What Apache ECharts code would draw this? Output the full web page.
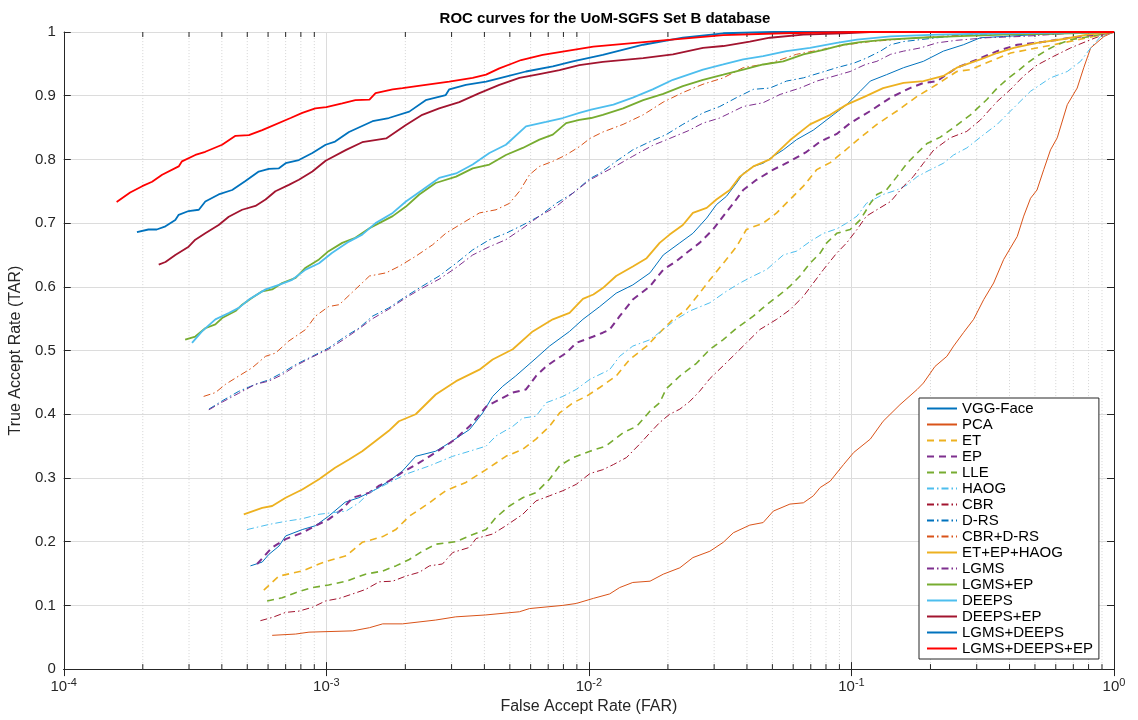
<!DOCTYPE html>
<html>
<head>
<meta charset="utf-8">
<script src="https://cdn.jsdelivr.net/npm/echarts@6/dist/echarts.min.js"></script>
<style>
html,body{margin:0;padding:0;background:#fff;}
#chart{width:1138px;height:720px;}
</style>
</head>
<body>
<div id="chart"></div>
<script>
// ---------- data: [FAR, TAR] pairs ----------
const SERIES_NAMES = ['VGG-Face','PCA','ET','EP','LLE','HAOG','CBR','D-RS','CBR+D-RS','ET+EP+HAOG','LGMS','LGMS+EP','DEEPS','DEEPS+EP','LGMS+DEEPS','LGMS+DEEPS+EP'];
const X_TICKS = [1e-4, 1e-3, 1e-2, 1e-1, 1];
const Y_TICKS = [0,0.1,0.2,0.3,0.4,0.5,0.6,0.7,0.8,0.9,1];

const VGG_FACE = [[5.14e-4,0.162],[5.70e-4,0.168],[6.04e-4,0.180],[6.60e-4,0.193],[7.0e-4,0.209],[8.10e-4,0.219],[9.08e-4,0.225],[1.02e-3,0.240],[1.18e-3,0.262],[1.33e-3,0.269],[1.54e-3,0.282],[1.73e-3,0.295],[1.95e-3,0.311],[2.19e-3,0.334],[2.61e-3,0.342],[2.94e-3,0.355],[3.51e-3,0.376],[3.94e-3,0.402],[4.30e-3,0.428],[4.70e-3,0.444],[5.26e-3,0.460],[6.29e-3,0.488],[7.08e-3,0.507],[8.44e-3,0.530],[9.49e-3,0.549],[1.10e-2,0.569],[1.27e-2,0.590],[1.47e-2,0.603],[1.71e-2,0.622],[1.92e-2,0.650],[2.22e-2,0.669],[2.49e-2,0.684],[2.81e-2,0.708],[3.06e-2,0.729],[3.34e-2,0.742],[3.65e-2,0.763],[3.87e-2,0.778],[4.23e-2,0.789],[4.61e-2,0.794],[5.04e-2,0.805],[5.50e-2,0.815],[6.18e-2,0.831],[7.16e-2,0.846],[8.53e-2,0.870],[9.59e-2,0.886],[0.108,0.907],[0.118,0.923],[0.136,0.933],[0.158,0.944],[0.188,0.954],[0.224,0.970],[0.267,0.980],[0.310,0.991],[0.380,0.993],[0.508,0.996],[0.683,0.998],[0.916,1.0],[1,1]];
const PCA = [[6.22e-4,0.053],[7.64e-4,0.055],[8.59e-4,0.058],[1.26e-3,0.060],[1.46e-3,0.065],[1.64e-3,0.071],[1.95e-3,0.071],[2.61e-3,0.077],[3.11e-3,0.082],[4.05e-3,0.085],[5.44e-3,0.090],[5.94e-3,0.095],[7.96e-3,0.100],[8.95e-3,0.103],[1.04e-2,0.111],[1.20e-2,0.118],[1.31e-2,0.128],[1.47e-2,0.136],[1.71e-2,0.138],[1.92e-2,0.149],[2.22e-2,0.159],[2.49e-2,0.175],[2.89e-2,0.185],[3.25e-2,0.199],[3.55e-2,0.214],[4.10e-2,0.226],[4.61e-2,0.230],[5.04e-2,0.248],[5.83e-2,0.259],[6.56e-2,0.261],[7.16e-2,0.272],[7.60e-2,0.285],[8.30e-2,0.295],[9.33e-2,0.321],[0.102,0.340],[0.118,0.361],[0.132,0.389],[0.153,0.415],[0.178,0.439],[0.188,0.449],[0.208,0.475],[0.231,0.491],[0.245,0.507],[0.267,0.528],[0.292,0.549],[0.319,0.580],[0.348,0.606],[0.380,0.643],[0.428,0.679],[0.453,0.711],[0.481,0.739],[0.509,0.752],[0.540,0.784],[0.573,0.815],[0.608,0.834],[0.664,0.886],[0.724,0.912],[0.767,0.944],[0.815,0.975],[0.916,0.993],[1,1]];
const ET = [[5.78e-4,0.124],[6.60e-4,0.146],[8.10e-4,0.154],[9.38e-4,0.165],[1.02e-3,0.170],[1.19e-3,0.178],[1.37e-3,0.199],[1.64e-3,0.208],[1.84e-3,0.219],[2.07e-3,0.240],[2.47e-3,0.261],[2.85e-3,0.280],[3.40e-3,0.293],[4.06e-3,0.313],[4.83e-3,0.334],[5.60e-3,0.345],[6.29e-3,0.361],[7.08e-3,0.381],[7.73e-3,0.402],[8.69e-3,0.418],[9.77e-3,0.428],[1.10e-2,0.442],[1.27e-2,0.460],[1.43e-2,0.486],[1.66e-2,0.507],[1.86e-2,0.528],[2.09e-2,0.549],[2.35e-2,0.564],[2.64e-2,0.590],[2.89e-2,0.611],[3.25e-2,0.637],[3.65e-2,0.663],[3.98e-2,0.690],[4.61e-2,0.700],[5.19e-2,0.716],[5.83e-2,0.737],[6.56e-2,0.758],[7.38e-2,0.784],[8.30e-2,0.795],[9.33e-2,0.812],[0.105,0.830],[0.125,0.855],[0.149,0.876],[0.178,0.899],[0.212,0.918],[0.252,0.938],[0.284,0.941],[0.338,0.954],[0.404,0.967],[0.467,0.972],[0.590,0.980],[0.791,0.991],[1,1]];
const EP = [[5.45e-4,0.165],[6.22e-4,0.191],[7.0e-4,0.204],[8.10e-4,0.214],[9.09e-4,0.225],[1.02e-3,0.235],[1.15e-3,0.251],[1.26e-3,0.269],[1.46e-3,0.277],[1.59e-3,0.288],[1.73e-3,0.295],[1.95e-3,0.309],[2.26e-3,0.324],[2.61e-3,0.340],[3.03e-3,0.358],[3.51e-3,0.381],[4.06e-3,0.412],[4.56e-3,0.423],[5.13e-3,0.434],[5.76e-3,0.439],[6.29e-3,0.460],[6.87e-3,0.475],[7.50e-3,0.486],[8.19e-3,0.496],[8.95e-3,0.512],[1.04e-2,0.522],[1.13e-2,0.528],[1.20e-2,0.533],[1.31e-2,0.554],[1.47e-2,0.580],[1.71e-2,0.601],[1.92e-2,0.627],[2.15e-2,0.640],[2.35e-2,0.653],[2.64e-2,0.669],[2.97e-2,0.690],[3.25e-2,0.711],[3.55e-2,0.731],[3.87e-2,0.752],[4.35e-2,0.768],[5.04e-2,0.784],[5.83e-2,0.797],[6.75e-2,0.812],[7.60e-2,0.828],[8.79e-2,0.840],[9.89e-2,0.857],[0.118,0.876],[0.141,0.897],[0.167,0.912],[0.188,0.920],[0.212,0.923],[0.252,0.944],[0.310,0.959],[0.359,0.970],[0.428,0.980],[0.509,0.983],[0.683,0.991],[0.863,0.996],[1,1]];
const LLE = [[5.95e-4,0.107],[6.79e-4,0.112],[7.64e-4,0.120],[8.85e-4,0.128],[1.02e-3,0.132],[1.19e-3,0.138],[1.41e-3,0.149],[1.64e-3,0.154],[1.84e-3,0.162],[2.07e-3,0.172],[2.32e-3,0.185],[2.61e-3,0.196],[3.12e-3,0.200],[3.51e-3,0.209],[4.06e-3,0.219],[4.43e-3,0.238],[4.98e-3,0.256],[5.60e-3,0.269],[6.29e-3,0.277],[7.08e-3,0.298],[7.73e-3,0.319],[8.69e-3,0.332],[1.01e-2,0.342],[1.16e-2,0.350],[1.35e-2,0.371],[1.52e-2,0.381],[1.71e-2,0.405],[1.86e-2,0.418],[1.97e-2,0.440],[2.22e-2,0.460],[2.57e-2,0.480],[2.89e-2,0.502],[3.25e-2,0.517],[3.65e-2,0.535],[4.23e-2,0.554],[4.75e-2,0.572],[5.35e-2,0.588],[5.83e-2,0.601],[6.37e-2,0.617],[6.95e-2,0.637],[7.60e-2,0.653],[8.05e-2,0.669],[8.79e-2,0.684],[9.89e-2,0.690],[0.108,0.705],[0.118,0.731],[0.125,0.745],[0.136,0.752],[0.149,0.773],[0.163,0.794],[0.178,0.810],[0.194,0.825],[0.218,0.835],[0.245,0.850],[0.284,0.870],[0.328,0.894],[0.359,0.912],[0.397,0.928],[0.428,0.938],[0.467,0.951],[0.509,0.962],[0.556,0.972],[0.608,0.980],[0.683,0.988],[0.815,0.993],[1,1]];
const HAOG = [[4.99e-4,0.219],[6.04e-4,0.227],[7.0e-4,0.232],[8.10e-4,0.236],[9.38e-4,0.243],[1.08e-3,0.246],[1.19e-3,0.248],[1.33e-3,0.261],[1.46e-3,0.277],[1.69e-3,0.290],[2.01e-3,0.306],[2.47e-3,0.319],[3.03e-3,0.334],[3.51e-3,0.342],[4.06e-3,0.350],[4.43e-3,0.366],[5.13e-3,0.381],[5.60e-3,0.394],[6.29e-3,0.397],[6.87e-3,0.418],[7.96e-3,0.428],[8.95e-3,0.439],[1.01e-2,0.455],[1.07e-2,0.460],[1.20e-2,0.470],[1.31e-2,0.491],[1.47e-2,0.507],[1.71e-2,0.517],[1.92e-2,0.533],[2.15e-2,0.549],[2.42e-2,0.562],[2.89e-2,0.575],[3.34e-2,0.593],[3.76e-2,0.606],[4.23e-2,0.617],[4.75e-2,0.627],[5.50e-2,0.650],[6.18e-2,0.656],[6.95e-2,0.671],[7.82e-2,0.684],[8.79e-2,0.691],[9.59e-2,0.700],[0.105,0.711],[0.114,0.731],[0.132,0.745],[0.149,0.752],[0.163,0.760],[0.178,0.773],[0.200,0.784],[0.224,0.794],[0.245,0.807],[0.275,0.818],[0.319,0.839],[0.359,0.855],[0.415,0.881],[0.481,0.907],[0.573,0.928],[0.664,0.938],[0.746,0.954],[0.815,0.975],[0.890,0.993],[1,1]];
const CBR = [[5.61e-4,0.076],[6.22e-4,0.081],[7.0e-4,0.089],[7.86e-4,0.091],[8.85e-4,0.097],[9.94e-4,0.107],[1.12e-3,0.111],[1.26e-3,0.118],[1.41e-3,0.125],[1.59e-3,0.137],[1.79e-3,0.138],[2.01e-3,0.146],[2.26e-3,0.152],[2.47e-3,0.162],[2.77e-3,0.165],[3.03e-3,0.183],[3.51e-3,0.191],[3.72e-3,0.205],[4.30e-3,0.212],[4.83e-3,0.225],[5.60e-3,0.243],[6.29e-3,0.264],[7.08e-3,0.272],[7.96e-3,0.280],[8.95e-3,0.290],[1.01e-2,0.307],[1.13e-2,0.313],[1.24e-2,0.321],[1.39e-2,0.332],[1.56e-2,0.353],[1.71e-2,0.371],[1.86e-2,0.387],[2.03e-2,0.400],[2.22e-2,0.408],[2.42e-2,0.420],[2.64e-2,0.436],[2.89e-2,0.456],[3.34e-2,0.481],[3.87e-2,0.507],[4.48e-2,0.533],[5.19e-2,0.549],[5.83e-2,0.564],[6.56e-2,0.585],[7.16e-2,0.606],[7.82e-2,0.627],[8.79e-2,0.653],[9.59e-2,0.669],[0.105,0.690],[0.114,0.711],[0.125,0.721],[0.141,0.734],[0.158,0.758],[0.172,0.773],[0.188,0.794],[0.206,0.815],[0.238,0.834],[0.275,0.844],[0.310,0.862],[0.359,0.891],[0.404,0.910],[0.453,0.931],[0.509,0.948],[0.590,0.962],[0.683,0.975],[0.815,0.988],[0.916,0.996],[1,1]];
const D_RS = [[3.57e-4,0.408],[4.01e-4,0.421],[4.64e-4,0.436],[5.37e-4,0.447],[6.04e-4,0.454],[6.79e-4,0.465],[7.64e-4,0.478],[8.85e-4,0.491],[1.02e-3,0.504],[1.19e-3,0.523],[1.33e-3,0.535],[1.50e-3,0.554],[1.73e-3,0.567],[2.01e-3,0.585],[2.32e-3,0.601],[2.69e-3,0.617],[3.12e-3,0.637],[3.61e-3,0.658],[4.18e-3,0.674],[4.83e-3,0.684],[5.60e-3,0.697],[6.48e-3,0.711],[7.50e-3,0.731],[8.69e-3,0.747],[1.01e-2,0.770],[1.10e-2,0.778],[1.27e-2,0.797],[1.47e-2,0.815],[1.71e-2,0.828],[1.97e-2,0.839],[2.28e-2,0.855],[2.72e-2,0.873],[3.15e-2,0.883],[3.65e-2,0.897],[4.23e-2,0.910],[4.89e-2,0.912],[5.66e-2,0.923],[6.56e-2,0.928],[7.60e-2,0.936],[8.79e-2,0.944],[0.102,0.951],[0.114,0.959],[0.129,0.970],[0.141,0.980],[0.158,0.985],[0.212,0.991],[0.284,0.996],[0.508,0.998],[1,1]];
const CBR_D_RS = [[3.41e-4,0.428],[3.78e-4,0.434],[4.13e-4,0.447],[4.64e-4,0.460],[5.22e-4,0.473],[5.87e-4,0.491],[6.40e-4,0.496],[7.20e-4,0.515],[8.34e-4,0.533],[9.09e-4,0.554],[1.02e-3,0.569],[1.12e-3,0.572],[1.29e-3,0.596],[1.46e-3,0.617],[1.69e-3,0.622],[1.89e-3,0.632],[2.19e-3,0.648],[2.54e-3,0.666],[2.85e-3,0.684],[3.30e-3,0.700],[3.83e-3,0.716],[4.43e-3,0.721],[4.98e-3,0.731],[5.44e-3,0.750],[5.94e-3,0.776],[6.48e-3,0.789],[7.29e-3,0.797],[8.19e-3,0.807],[9.20e-3,0.820],[1.01e-2,0.833],[1.13e-2,0.843],[1.35e-2,0.855],[1.61e-2,0.870],[1.92e-2,0.890],[2.28e-2,0.905],[2.72e-2,0.918],[3.25e-2,0.928],[3.87e-2,0.944],[4.89e-2,0.951],[6.18e-2,0.965],[7.60e-2,0.972],[9.59e-2,0.980],[0.118,0.985],[0.158,0.989],[0.212,0.993],[0.328,0.997],[0.509,0.998],[1,1]];
const ET_EP_HAOG = [[4.85e-4,0.243],[5.70e-4,0.253],[6.22e-4,0.256],[7.0e-4,0.269],[8.10e-4,0.282],[9.38e-4,0.298],[1.08e-3,0.316],[1.22e-3,0.329],[1.37e-3,0.342],[1.54e-3,0.358],[1.73e-3,0.374],[1.89e-3,0.389],[2.19e-3,0.400],[2.61e-3,0.431],[3.12e-3,0.452],[3.83e-3,0.470],[4.30e-3,0.486],[5.13e-3,0.502],[6.11e-3,0.530],[7.29e-3,0.549],[8.44e-3,0.559],[9.49e-3,0.581],[1.04e-2,0.588],[1.13e-2,0.598],[1.27e-2,0.617],[1.47e-2,0.632],[1.66e-2,0.645],[1.86e-2,0.669],[2.03e-2,0.682],[2.28e-2,0.697],[2.49e-2,0.716],[2.81e-2,0.724],[3.06e-2,0.737],[3.44e-2,0.752],[3.76e-2,0.773],[4.23e-2,0.789],[4.89e-2,0.800],[5.83e-2,0.830],[6.95e-2,0.855],[8.30e-2,0.870],[9.59e-2,0.886],[0.113,0.899],[0.132,0.912],[0.158,0.920],[0.188,0.923],[0.224,0.931],[0.252,0.944],[0.310,0.957],[0.359,0.967],[0.415,0.975],[0.509,0.983],[0.644,0.989],[0.791,0.996],[1,1]];
const LGMS = [[3.57e-4,0.407],[4.01e-4,0.419],[4.64e-4,0.433],[5.37e-4,0.447],[6.04e-4,0.452],[6.79e-4,0.462],[7.64e-4,0.476],[8.85e-4,0.490],[1.02e-3,0.502],[1.19e-3,0.520],[1.33e-3,0.534],[1.50e-3,0.550],[1.73e-3,0.565],[2.01e-3,0.583],[2.32e-3,0.598],[2.69e-3,0.612],[3.12e-3,0.630],[3.61e-3,0.650],[4.18e-3,0.663],[4.83e-3,0.674],[5.60e-3,0.692],[6.48e-3,0.711],[7.50e-3,0.726],[8.69e-3,0.747],[1.01e-2,0.768],[1.27e-2,0.790],[1.47e-2,0.805],[1.75e-2,0.822],[2.09e-2,0.835],[2.39e-2,0.845],[2.72e-2,0.857],[3.15e-2,0.865],[3.87e-2,0.883],[4.61e-2,0.889],[5.35e-2,0.902],[6.37e-2,0.912],[7.38e-2,0.923],[8.30e-2,0.929],[9.89e-2,0.938],[0.113,0.949],[0.125,0.954],[0.141,0.965],[0.158,0.970],[0.183,0.975],[0.212,0.983],[0.252,0.987],[0.328,0.991],[0.444,0.993],[0.683,0.998],[1,1]];
const LGMS_EP = [[2.90e-4,0.517],[3.17e-4,0.522],[3.46e-4,0.535],[3.78e-4,0.541],[4.01e-4,0.551],[4.51e-4,0.562],[4.78e-4,0.572],[5.22e-4,0.583],[5.70e-4,0.593],[6.22e-4,0.596],[6.79e-4,0.606],[7.64e-4,0.614],[8.34e-4,0.630],[9.38e-4,0.643],[1.02e-3,0.656],[1.15e-3,0.669],[1.29e-3,0.677],[1.46e-3,0.692],[1.59e-3,0.700],[1.79e-3,0.711],[2.01e-3,0.726],[2.26e-3,0.745],[2.61e-3,0.763],[3.12e-3,0.773],[3.61e-3,0.786],[4.18e-3,0.792],[4.83e-3,0.807],[5.60e-3,0.818],[6.48e-3,0.831],[7.29e-3,0.839],[8.19e-3,0.857],[9.20e-3,0.862],[1.02e-2,0.865],[1.13e-2,0.870],[1.35e-2,0.880],[1.61e-2,0.893],[1.92e-2,0.903],[2.28e-2,0.915],[2.72e-2,0.925],[3.25e-2,0.933],[3.87e-2,0.941],[4.61e-2,0.949],[5.50e-2,0.954],[6.56e-2,0.965],[7.82e-2,0.972],[9.33e-2,0.980],[0.108,0.984],[0.136,0.988],[0.183,0.991],[0.245,0.993],[0.380,0.996],[0.683,0.998],[1,1]];
const DEEPS = [[3.08e-4,0.512],[3.36e-4,0.530],[3.78e-4,0.549],[4.25e-4,0.559],[4.64e-4,0.567],[5.07e-4,0.580],[5.87e-4,0.596],[6.60e-4,0.603],[7.41e-4,0.611],[8.34e-4,0.627],[9.38e-4,0.637],[1.05e-3,0.653],[1.22e-3,0.671],[1.37e-3,0.682],[1.54e-3,0.700],[1.79e-3,0.716],[2.01e-3,0.734],[2.32e-3,0.752],[2.69e-3,0.771],[3.12e-3,0.778],[3.61e-3,0.792],[4.18e-3,0.810],[4.83e-3,0.823],[5.76e-3,0.852],[6.87e-3,0.859],[7.96e-3,0.865],[9.20e-3,0.873],[1.02e-2,0.878],[1.24e-2,0.886],[1.47e-2,0.897],[1.75e-2,0.910],[2.09e-2,0.925],[2.72e-2,0.941],[3.25e-2,0.949],[3.87e-2,0.957],[4.61e-2,0.962],[5.66e-2,0.970],[6.95e-2,0.975],[8.79e-2,0.983],[0.105,0.988],[0.141,0.993],[0.212,0.996],[0.380,0.998],[1,1]];
const DEEPS_EP = [[2.30e-4,0.635],[2.44e-4,0.639],[2.66e-4,0.650],[2.99e-4,0.663],[3.17e-4,0.674],[3.46e-4,0.684],[3.89e-4,0.697],[4.25e-4,0.710],[4.78e-4,0.721],[5.37e-4,0.727],[5.87e-4,0.737],[6.40e-4,0.750],[7.20e-4,0.760],[7.86e-4,0.768],[8.85e-4,0.781],[9.94e-4,0.798],[1.19e-3,0.815],[1.37e-3,0.827],[1.69e-3,0.833],[2.01e-3,0.854],[2.32e-3,0.870],[2.69e-3,0.880],[3.21e-3,0.890],[3.83e-3,0.904],[4.56e-3,0.917],[5.44e-3,0.928],[6.48e-3,0.934],[7.73e-3,0.940],[9.20e-3,0.948],[1.13e-2,0.953],[1.61e-2,0.959],[2.09e-2,0.965],[2.72e-2,0.975],[3.25e-2,0.978],[4.10e-2,0.985],[4.89e-2,0.991],[6.56e-2,0.996],[9.33e-2,0.998],[0.118,1.0],[1,1]];
const LGMS_DEEPS = [[1.90e-4,0.686],[2.10e-4,0.690],[2.26e-4,0.690],[2.44e-4,0.695],[2.66e-4,0.705],[2.74e-4,0.713],[2.99e-4,0.719],[3.27e-4,0.721],[3.46e-4,0.734],[3.89e-4,0.745],[4.38e-4,0.752],[4.92e-4,0.766],[5.53e-4,0.781],[6.04e-4,0.785],[6.60e-4,0.786],[7.0e-4,0.794],[7.86e-4,0.799],[8.85e-4,0.810],[9.94e-4,0.823],[1.08e-3,0.828],[1.22e-3,0.843],[1.50e-3,0.860],[1.73e-3,0.865],[2.07e-3,0.875],[2.39e-3,0.893],[2.85e-3,0.901],[2.94e-3,0.910],[3.40e-3,0.917],[4.06e-3,0.922],[4.83e-3,0.930],[5.76e-3,0.938],[7.29e-3,0.946],[8.69e-3,0.954],[1.13e-2,0.964],[1.61e-2,0.980],[2.28e-2,0.991],[3.25e-2,0.998],[5.04e-2,1.0],[1,1]];
const LGMS_DEEPS_EP = [[1.59e-4,0.733],[1.79e-4,0.748],[1.99e-4,0.758],[2.17e-4,0.765],[2.37e-4,0.776],[2.74e-4,0.789],[2.82e-4,0.797],[3.17e-4,0.807],[3.46e-4,0.812],[4.01e-4,0.823],[4.51e-4,0.837],[5.07e-4,0.838],[5.70e-4,0.846],[7.31e-4,0.865],[8.10e-4,0.873],[9.08e-4,0.880],[1.00e-3,0.882],[1.15e-3,0.888],[1.29e-3,0.893],[1.46e-3,0.894],[1.54e-3,0.904],[1.79e-3,0.910],[1.95e-3,0.912],[2.39e-3,0.917],[2.94e-3,0.922],[3.61e-3,0.928],[4.06e-3,0.933],[4.56e-3,0.943],[5.13e-3,0.951],[5.52e-3,0.956],[6.67e-3,0.964],[1.04e-2,0.977],[1.92e-2,0.987],[3.25e-2,0.995],[5.50e-2,0.998],[0.102,1.0],[1,1]];

const SERIES_DATA = [VGG_FACE, PCA, ET, EP, LLE, HAOG, CBR, D_RS, CBR_D_RS, ET_EP_HAOG, LGMS, LGMS_EP, DEEPS, DEEPS_EP, LGMS_DEEPS, LGMS_DEEPS_EP];

// ---------- styles ----------
const DASH = [7, 5];
const DASHDOT = [7, 3, 1.5, 3];
const STYLES = [
  {color:'#0072BD', width:1,   type:'solid'},
  {color:'#D95319', width:1,   type:'solid'},
  {color:'#EDB120', width:1.6, type:DASH},
  {color:'#7E2F8E', width:2,   type:DASH},
  {color:'#77AC30', width:1.6, type:DASH},
  {color:'#4DBEEE', width:1,   type:DASHDOT},
  {color:'#A2142F', width:1,   type:DASHDOT},
  {color:'#0072BD', width:1,   type:DASHDOT},
  {color:'#D95319', width:1,   type:DASHDOT},
  {color:'#EDB120', width:1.8, type:'solid'},
  {color:'#7E2F8E', width:1,   type:DASHDOT},
  {color:'#77AC30', width:1.8, type:'solid'},
  {color:'#4DBEEE', width:1.8, type:'solid'},
  {color:'#A2142F', width:1.8, type:'solid'},
  {color:'#0072BD', width:1.8, type:'solid'},
  {color:'#FF0000', width:1.8, type:'solid'}
];

// minor log ticks (2..9 x 10^k)
const MINOR_TICKS = [];
for (let k = -4; k < 0; k++) for (let m = 2; m <= 9; m++) MINOR_TICKS.push([m * Math.pow(10, k), 0]);

const FONT = '"Liberation Sans", Arial, Helvetica, sans-serif';
const AX = '#262626';

const chart = echarts.init(document.getElementById('chart'), null, {renderer:'canvas'});

const lineSeries = SERIES_NAMES.map((name, i) => ({
  name: name,
  type: 'line',
  data: SERIES_DATA[i],
  showSymbol: false,
  symbol: 'none',
  smooth: false,
  animation: false,
  clip: true,
  z: 3,
  itemStyle: {color: STYLES[i].color},
  lineStyle: {color: STYLES[i].color, width: STYLES[i].width, type: STYLES[i].type}
}));

const minorSeries = {
  type: 'custom',
  name: '_minor',
  data: MINOR_TICKS,
  encode: {x: 0, y: 1},
  silent: true,
  animation: false,
  z: 1,
  renderItem: function (params, api) {
    const v = api.value(0);
    const p0 = api.coord([v, 0]);
    const p1 = api.coord([v, 1]);
    return {
      type: 'group',
      children: [
        {type:'line', shape:{x1:p0[0], y1:p0[1], x2:p1[0], y2:p1[1]},
         style:{stroke:'#d4d4d4', lineWidth:1, lineDash:[1,2]}},
        {type:'line', shape:{x1:p0[0], y1:p0[1], x2:p0[0], y2:p0[1]-5},
         style:{stroke:AX, lineWidth:1}},
        {type:'line', shape:{x1:p1[0], y1:p1[1], x2:p1[0], y2:p1[1]+5},
         style:{stroke:AX, lineWidth:1}}
      ]
    };
  }
};

const option = {
  backgroundColor: '#ffffff',
  animation: false,
  title: {
    text: 'ROC curves for the UoM-SGFS Set B database',
    left: 600, top: 6, textAlign: 'center',
    textStyle: {fontFamily: FONT, fontSize: 15, fontWeight: 'bold', color: '#000'}
  },
  grid: {left: 62, right: 24, top: 32, bottom: 50, containLabel: false},
  legend: {
    data: SERIES_NAMES,
    orient: 'vertical',
    left: 919, top: 398,
    itemWidth: 30, itemHeight: 14, itemGap: 1,
    padding: [3, 6, 3, 7],
    backgroundColor: '#ffffff',
    borderColor: AX, borderWidth: 1,
    itemStyle: {opacity: 0},
    textStyle: {fontFamily: FONT, fontSize: 15, color: '#000'}
  },
  xAxis: [{
    type: 'log', logBase: 10, min: 1e-4, max: 1,
    name: 'False Accept Rate (FAR)', nameLocation: 'middle', nameGap: 27,
    nameTextStyle: {fontFamily: FONT, fontSize: 16, color: AX},
    axisLine: {show: true, lineStyle: {color: AX, width: 1}},
    axisTick: {show: true, inside: true, length: 7, lineStyle: {color: AX}},
    axisLabel: {
      fontFamily: FONT, fontSize: 15, color: AX, margin: 8,
      formatter: function (v) { return '10{s|' + Math.round(Math.log10(v)) + '}'; },
      rich: {s: {fontFamily: FONT, fontSize: 11, color: AX, verticalAlign: 'top', padding: [0,0,8,0]}}
    },
    splitLine: {show: true, lineStyle: {color: '#dcdcdc', width: 1}}
  }, {
    type: 'log', logBase: 10, min: 1e-4, max: 1, position: 'top',
    axisLine: {show: true, lineStyle: {color: AX, width: 1}},
    axisTick: {show: true, inside: true, length: 7, lineStyle: {color: AX}},
    axisLabel: {show: false}, splitLine: {show: false}
  }],
  yAxis: [{
    type: 'value', min: 0, max: 1, interval: 0.1,
    name: 'True Accept Rate (TAR)', nameLocation: 'middle', nameGap: 24,
    nameTextStyle: {fontFamily: FONT, fontSize: 16, color: AX},
    axisLine: {show: true, lineStyle: {color: AX, width: 1}},
    axisTick: {show: true, inside: true, length: 7, lineStyle: {color: AX}},
    axisLabel: {fontFamily: FONT, fontSize: 15, color: AX, margin: 8,
      formatter: function (v) { return String(Math.round(v * 10) / 10); }},
    splitLine: {show: true, lineStyle: {color: '#dcdcdc', width: 1}}
  }, {
    type: 'value', min: 0, max: 1, interval: 0.1, position: 'right',
    axisLine: {show: true, lineStyle: {color: AX, width: 1}},
    axisTick: {show: true, inside: true, length: 7, lineStyle: {color: AX}},
    axisLabel: {show: false}, splitLine: {show: false}
  }],
  series: [minorSeries].concat(lineSeries)
};

chart.setOption(option);
</script>
</body>
</html>
